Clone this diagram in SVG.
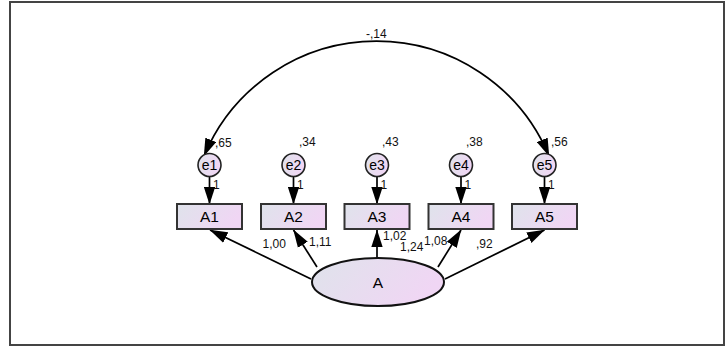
<svg xmlns="http://www.w3.org/2000/svg" width="728" height="351" viewBox="0 0 728 351">
<defs>
<linearGradient id="g" x1="0" y1="0" x2="1" y2="0.3">
<stop offset="0" stop-color="#dfe3eb"/>
<stop offset="1" stop-color="#f0d6f4"/>
</linearGradient>
<marker id="ah" markerUnits="userSpaceOnUse" markerWidth="18" markerHeight="12" refX="16.5" refY="5.5" orient="auto-start-reverse" viewBox="0 0 17 11">
<path d="M0,0 L17,5.5 L0,11 Z" fill="#000"/>
</marker>
<style>
.box{fill:url(#g);stroke:#333;stroke-width:2}
.err{fill:url(#g);stroke:#222;stroke-width:1.6}
.lat{fill:url(#g);stroke:#111;stroke-width:2}
.lbl{font-family:"Liberation Sans",Arial,sans-serif;font-size:15.5px;fill:#000;text-anchor:middle}
.elbl{font-family:"Liberation Sans",Arial,sans-serif;font-size:14px;fill:#000;text-anchor:middle}
.num{font-family:"Liberation Sans",Arial,sans-serif;font-size:12px;fill:#111}
.ln{stroke:#000;stroke-width:1.7;fill:none;marker-end:url(#ah)}
</style>
</defs>
<rect x="0" y="0" width="728" height="351" fill="#fff"/>
<rect x="10" y="2" width="714" height="343" fill="none" stroke="#444" stroke-width="2"/>

<g id="connectors">
<path class="ln" style="marker-start:url(#ah)" d="M204,156 A187,187 0 0 1 549,156"/>
<line class="ln" x1="209.5" y1="176.5" x2="209.5" y2="204"/>
<line class="ln" x1="293.5" y1="176.5" x2="293.5" y2="204"/>
<line class="ln" x1="377" y1="176.5" x2="377" y2="204"/>
<line class="ln" x1="461" y1="176.5" x2="461" y2="204"/>
<line class="ln" x1="544.5" y1="176.5" x2="544.5" y2="204"/>
<line class="ln" x1="311" y1="279" x2="210" y2="230"/>
<line class="ln" x1="317" y1="267" x2="293.5" y2="230"/>
<line class="ln" x1="377" y1="258" x2="377" y2="230"/>
<line class="ln" x1="438" y1="267" x2="461" y2="230"/>
<line class="ln" x1="445" y1="279" x2="544.5" y2="230"/>
</g>

<g id="e1"><ellipse class="err" cx="209.5" cy="165" rx="11.5" ry="11.5"/><text class="elbl" x="209.5" y="170">e1</text></g>
<g id="e2"><ellipse class="err" cx="293.5" cy="165" rx="11.5" ry="11.5"/><text class="elbl" x="293.5" y="170">e2</text></g>
<g id="e3"><ellipse class="err" cx="377" cy="165" rx="11.5" ry="11.5"/><text class="elbl" x="377" y="170">e3</text></g>
<g id="e4"><ellipse class="err" cx="461" cy="165" rx="11.5" ry="11.5"/><text class="elbl" x="461" y="170">e4</text></g>
<g id="e5"><ellipse class="err" cx="544.5" cy="165" rx="11.5" ry="11.5"/><text class="elbl" x="544.5" y="170">e5</text></g>

<g id="A1"><rect class="box" x="177" y="204" width="65" height="25"/><text class="lbl" x="209.5" y="222">A1</text></g>
<g id="A2"><rect class="box" x="261" y="204" width="65" height="25"/><text class="lbl" x="293.5" y="222">A2</text></g>
<g id="A3"><rect class="box" x="344.5" y="204" width="65" height="25"/><text class="lbl" x="377" y="222">A3</text></g>
<g id="A4"><rect class="box" x="428.5" y="204" width="65" height="25"/><text class="lbl" x="461" y="222">A4</text></g>
<g id="A5"><rect class="box" x="512" y="204" width="65" height="25"/><text class="lbl" x="544.5" y="222">A5</text></g>

<g id="A"><ellipse class="lat" cx="378" cy="282" rx="66" ry="24"/><text class="lbl" x="378" y="288">A</text></g>

<g id="labels">
<text class="num" x="366" y="38">-,14</text>
<text class="num" x="215" y="147">,65</text>
<text class="num" x="299" y="146">,34</text>
<text class="num" x="382" y="146">,43</text>
<text class="num" x="466" y="146">,38</text>
<text class="num" x="551" y="146">,56</text>
<text class="num" x="213" y="189">1</text>
<text class="num" x="297" y="189">1</text>
<text class="num" x="380.5" y="189">1</text>
<text class="num" x="464.5" y="189">1</text>
<text class="num" x="548" y="189">1</text>
<text class="num" x="262.5" y="248">1,00</text>
<text class="num" x="309" y="246">1,11</text>
<text class="num" x="383" y="240">1,02</text>
<text class="num" x="400" y="251">1,24</text>
<text class="num" x="424" y="245">1,08</text>
<text class="num" x="476" y="248">,92</text>
</g>
</svg>
